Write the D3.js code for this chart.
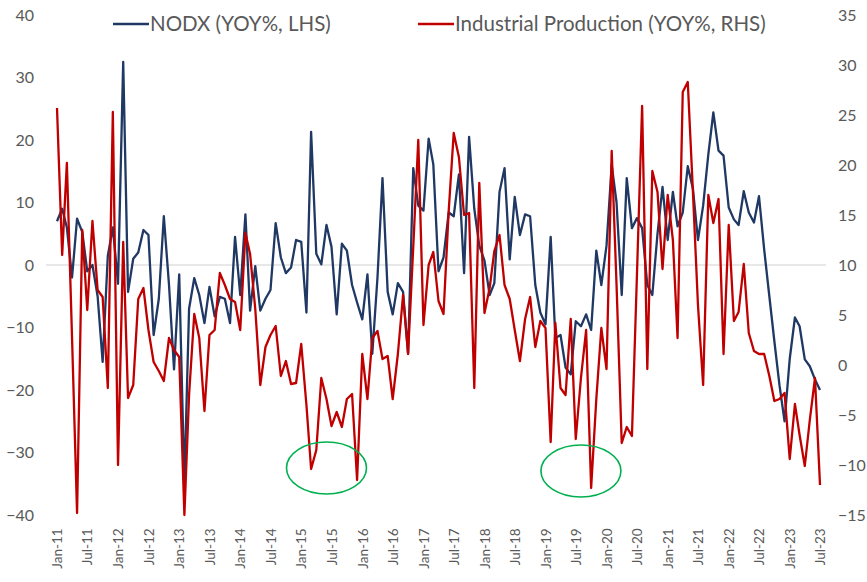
<!DOCTYPE html>
<html>
<head>
<meta charset="utf-8">
<script src="https://cdn.jsdelivr.net/npm/d3@7"></script>
<style>
  body { margin: 0; background: #fff; }
  text { font-family: Lato, "Open Sans", sans-serif; fill: #595959; }
</style>
</head>
<body>
<div id="chart"></div>
<script>
// monthly YoY %, Jan-11 .. Jul-23
var firstMonth = "Jan-11";

var nodx = [
  7, 9, 6, -2, 7.4, 5.3, -1, 0, -5, -15.5,
  1.5, 6, -3, 32.5, -4.3, 1, 2, 5.6, 4.8, -11.2,
  -5.4, 7.8, -3.2, -16.7, -1.5, -35, -7, -2.1, -4.8, -9.3,
  -3.5, -8.2, -5.1, -5.4, -9.3, 4.5, -4.8, 8.1, -7.3, -0.2,
  -7.3, -5.4, -4, 6.7, 1.2, -1.3, -0.4, 4, 3.7, -7.6,
  21.3, 1.8, 0.1, 6.4, 2.9, -7.9, 3.4, 2.3, -3.2, -6,
  -8.7, -1.5, -14.2, -2, 13.9, -4.3, -7.9, -2.9, -4.3, -14.2,
  15.5, 9.5, 8.7, 20.2, 16.1, -1, 1.2, 8.4, 7.8, 14.5,
  -1.3, 20.5, 9, 3.1, 0.7, -4.8, -2.9, 11.7, 15.5, 0.9,
  10.9, 4.8, 8.1, 7.8, -3.2, -7.6, -9.5, 4.5, -11.7, -11.2,
  -16.4, -17.5, -9, -9.8, -7.9, -10.4, 2.3, -3.2, 3.1, 16,
  10, -4.8, 13.9, 5.9, 7.5, 5.9, -3.2, -4.8, 5, 12.5,
  4, 11.7, 6.2, 8.4, 15.8, 12.2, 4, 9.5, 17.7, 24.4,
  18.3, 17.5, 9.2, 7.3, 6.4, 11.8, 8.4, 6.8, 11, 2.5,
  -5, -12.2, -19.3, -25, -15, -8.4, -9.8, -15.1, -16.2, -18.3,
  -20
];

var indProd = [
  25.7, 11, 20.2, 2.7, -14.8, 13.5, 5.5, 14.4, 7.5, 6.8,
  -2.3, 25.3, -10, 12.3, -3.3, -2, 6.6, 7.7, 3.5, 0.3,
  -0.6, -1.6, 2.7, 1.5, 0.8, -15, -3, 5.1, 2.7, -4.6,
  3, 3.5, 9.2, 8, 6.6, 6.3, 3.5, 13.2, 11.1, 5.6,
  -2, 1.8, 3, 3.9, -1.1, 0.4, -1.9, -1.8, 2.1, -4,
  -10.4, -8.5, -1.3, -3.4, -6.1, -4.7, -6.2, -3.4, -2.9, -11.5,
  1.1, -3.4, 2.7, 3.4, 0.6, 0.9, -3.4, 1.1, 7, 1.1,
  11.8, 22.5, 4, 10, 11.3, 6.4, 5.1, 15.4, 23.2, 20.8,
  15, 15.2, -2.3, 18.2, 5.2, 7.7, 11.4, 13, 8, 6.6,
  3.5, 0.4, 4.6, 6.8, 1.8, 4.4, 3.7, -7.7, 4.2, -2.3,
  -3, 4.6, -7.4, -1.3, 3.5, -12.3, -3.4, 3.7, -0.4, 21.4,
  8, -7.8, -6.2, -7.1, 9, 25.9, -0.4, 19.4, 17.3, 9.6,
  17, 12.5, 2.7, 27.3, 28.3, 17.3, 6, -2, 17, 14.2,
  16.6, 1.1, 14, 4.4, 5.3, 10.1, 3.2, 1.4, 1.1, 1.1,
  -1.1, -3.6, -3.4, -2.8, -9.4, -3.9, -7, -10.1, -5.5, -1.3,
  -12
];

var leftTicks = [40, 30, 20, 10, 0, -10, -20, -30, -40];
var rightTicks = [35, 30, 25, 20, 15, 10, 5, 0, -5, -10, -15];
var xTickLabels = ["Jan-11", "Jul-11", "Jan-12", "Jul-12", "Jan-13", "Jul-13", "Jan-14", "Jul-14",
  "Jan-15", "Jul-15", "Jan-16", "Jul-16", "Jan-17", "Jul-17", "Jan-18", "Jul-18",
  "Jan-19", "Jul-19", "Jan-20", "Jul-20", "Jan-21", "Jul-21", "Jan-22", "Jul-22",
  "Jan-23", "Jul-23"];
var seriesNames = ["NODX (YOY%, LHS)", "Industrial Production (YOY%, RHS)"];

// green rings drawn on the chart (month, RHS value)
var rings = [["Jun-15", -10.3], ["Aug-19", -10.6]];

var svgWidth = 867;
var svgHeight = 582;

var parseMonth = d3.timeParse("%b-%y");
var start = parseMonth(firstMonth);
var months = nodx.map((d, i) => d3.timeMonth.offset(start, i));

var svg = d3.select("#chart")
  .append("svg")
  .attr("width", svgWidth)
  .attr("height", svgHeight);

var x = d3.scaleTime()
  .domain([start, months[months.length - 1]])
  .range([57, 820]);

var yLeft = d3.scaleLinear().domain([-40, 40]).range([515, 15]);
var yRight = d3.scaleLinear().domain([-15, 35]).range([515, 15]);

// zero line
svg.append("line")
  .attr("x1", 46).attr("x2", 826)
  .attr("y1", yLeft(0)).attr("y2", yLeft(0))
  .attr("stroke", "#d0d0d0")
  .attr("stroke-width", 1);

var leftAxis = svg.append("g")
  .attr("transform", "translate(34,0)")
  .call(d3.axisLeft(yLeft).tickValues(leftTicks).tickSize(0).tickPadding(0));

var rightAxis = svg.append("g")
  .attr("transform", "translate(836,0)")
  .call(d3.axisRight(yRight).tickValues(rightTicks).tickSize(0).tickPadding(2));

[leftAxis, rightAxis].forEach(function(g) {
  g.select(".domain").remove();
  g.selectAll("text")
    .style("font-size", "16px")
    .attr("fill", "#595959");
});

var bottomAxis = svg.append("g")
  .attr("transform", "translate(0,527)")
  .call(d3.axisBottom(x)
    .tickValues(xTickLabels.map(parseMonth))
    .tickFormat(d3.timeFormat("%b-%y"))
    .tickSize(0));

bottomAxis.select(".domain").remove();
bottomAxis.selectAll("text")
  .attr("transform", "rotate(-90)")
  .attr("text-anchor", "end")
  .attr("x", 0)
  .attr("y", 0)
  .attr("dx", "-0.1em")
  .attr("dy", "0.35em")
  .style("font-size", "13.5px")
  .attr("fill", "#595959");

var nodxLine = d3.line()
  .x((d, i) => x(months[i]))
  .y(d => yLeft(d));

var ipLine = d3.line()
  .x((d, i) => x(months[i]))
  .y(d => yRight(d));

svg.append("path")
  .datum(nodx)
  .attr("d", nodxLine)
  .attr("fill", "none")
  .attr("stroke", "#1f3864")
  .attr("stroke-width", 2.3)
  .attr("stroke-linejoin", "round");

svg.append("path")
  .datum(indProd)
  .attr("d", ipLine)
  .attr("fill", "none")
  .attr("stroke", "#c00000")
  .attr("stroke-width", 2.3)
  .attr("stroke-linejoin", "round");

svg.selectAll(".ring")
  .data(rings)
  .enter()
  .append("ellipse")
  .attr("class", "ring")
  .attr("cx", d => x(parseMonth(d[0])))
  .attr("cy", d => yRight(d[1]))
  .attr("rx", 40)
  .attr("ry", 26)
  .attr("fill", "none")
  .attr("stroke", "#00b050")
  .attr("stroke-width", 1.6);

// legend
var legend = svg.append("g").attr("class", "legend");
var legendX = [113, 418];
var legendColors = ["#1f3864", "#c00000"];

seriesNames.forEach(function(name, i) {
  legend.append("line")
    .attr("x1", legendX[i]).attr("x2", legendX[i] + 36)
    .attr("y1", 24).attr("y2", 24)
    .attr("stroke", legendColors[i])
    .attr("stroke-width", 2.3);
  legend.append("text")
    .attr("x", legendX[i] + 37)
    .attr("y", 31)
    .style("font-size", "20.5px")
    .text(name);
});
</script>
</body>
</html>
